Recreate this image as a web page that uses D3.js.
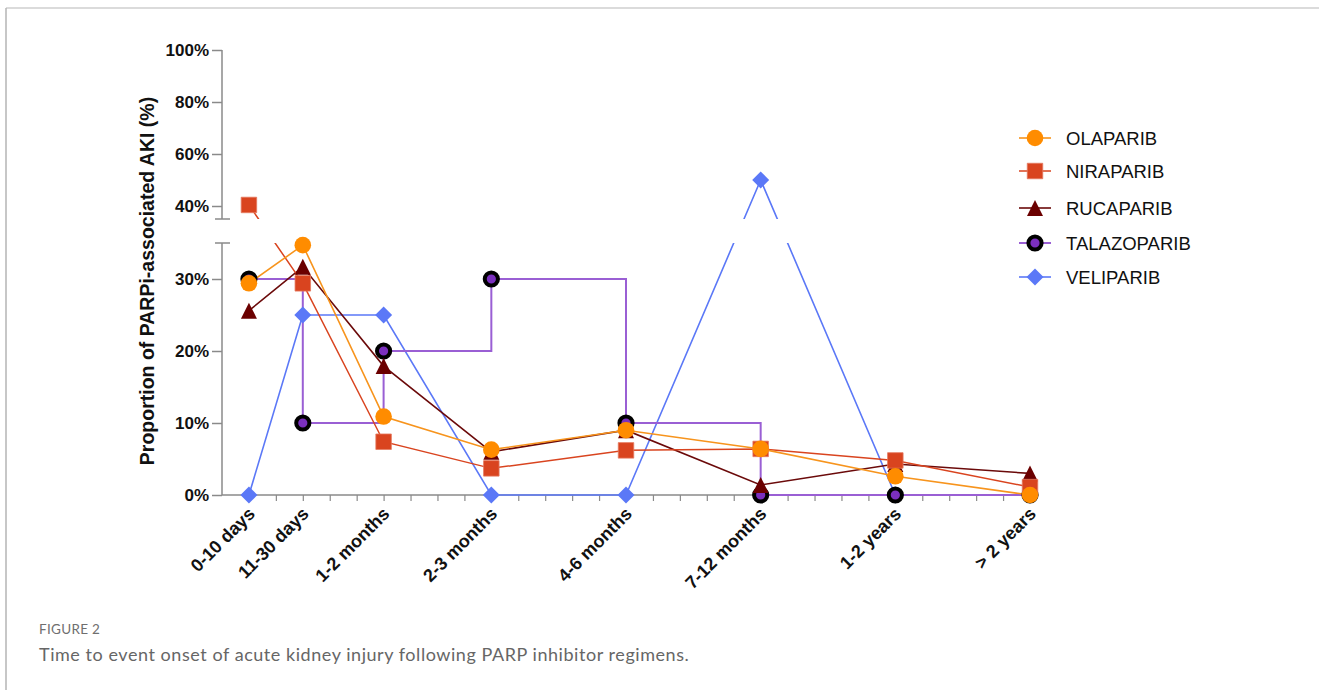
<!DOCTYPE html>
<html>
<head>
<meta charset="utf-8">
<script src="https://cdn.jsdelivr.net/npm/d3@7"></script>
<style>
  html, body { margin: 0; padding: 0; background: #fff; }
  svg { display: block; }
</style>
</head>
<body>
<svg id="chart" width="1319" height="690"></svg>
<script>
// Onset windows and their positions on the numeric x axis
const categories = ["0-10 days", "11-30 days", "1-2 months", "2-3 months", "4-6 months", "7-12 months", "1-2 years", "> 2 years"];
const onsetX = [1, 3, 6, 10, 15, 20, 25, 30];

// Proportion of AKI cases (%) per onset window
const olaparib    = [29.4, 34.7, 10.9, 6.3, 9.0, 6.4, 2.6, 0];
const niraparib   = [40.4, 29.4, 7.4, 3.7, 6.2, 6.4, 4.8, 1.1];
const rucaparib   = [25.6, 31.7, 17.9, 6.0, 9.0, 1.4, 4.3, 3.0];
const talazoparib = [30, 10, 20, 30, 10, 0, 0, 0];
const veliparib   = [0, 25, 25, 0, 0, 50, 0, 0];

const lowerTicks = [0, 10, 20, 30];
const upperTicks = [40, 60, 80, 100];
const breakAt = 35;

const seriesNames = ["OLAPARIB", "NIRAPARIB", "RUCAPARIB", "TALAZOPARIB", "VELIPARIB"];

const svg = d3.select("#chart");

// Figure frame
svg.append("line").attr("x1", 6).attr("x2", 1319).attr("y1", 8).attr("y2", 8)
  .attr("stroke", "#cfcfcf").attr("stroke-width", 1.5);
svg.append("line").attr("x1", 6).attr("x2", 6).attr("y1", 8).attr("y2", 690)
  .attr("stroke", "#b5b5b5").attr("stroke-width", 1.5);

// Scales: numeric x, broken y axis (two linear segments)
const x = d3.scaleLinear().domain([0, 30]).range([222, 1030]);
const yLow = d3.scaleLinear().domain([0, breakAt]).range([495, 243]);
const yHigh = d3.scaleLinear().domain([breakAt, 100]).range([219, 50]);
const y = v => (v <= breakAt ? yLow(v) : yHigh(v));

const axisColor = "#8a8a8a";
const boldFont = "'Liberation Sans', Arial, Helvetica, sans-serif";

// Y axis (two segments)
const gLow = svg.append("g").attr("transform", "translate(222,0)")
  .call(d3.axisLeft(yLow).tickValues(lowerTicks).tickSize(10).tickPadding(3).tickFormat(d => d + "%"));
const gHigh = svg.append("g").attr("transform", "translate(222,0)")
  .call(d3.axisLeft(yHigh).tickValues(upperTicks).tickSize(10).tickPadding(3).tickFormat(d => d + "%"));
[gLow, gHigh].forEach(g => {
  g.select(".domain").remove();
  g.selectAll(".tick line").attr("stroke", axisColor).attr("stroke-width", 1.5);
  g.selectAll(".tick text").attr("font-family", boldFont).attr("font-weight", "bold")
    .attr("font-size", 17).attr("fill", "#111");
});
svg.append("line").attr("x1", 222).attr("x2", 222).attr("y1", yLow(0)).attr("y2", yLow(breakAt))
  .attr("stroke", axisColor).attr("stroke-width", 1.5);
svg.append("line").attr("x1", 222).attr("x2", 222).attr("y1", yHigh(breakAt)).attr("y2", yHigh(100))
  .attr("stroke", axisColor).attr("stroke-width", 1.5);
// Break marks
[yLow(breakAt), yHigh(breakAt)].forEach(yy => {
  svg.append("line").attr("x1", 215).attr("x2", 230).attr("y1", yy).attr("y2", yy)
    .attr("stroke", axisColor).attr("stroke-width", 1.5);
});

// X axis with minor ticks at each unit
const gx = svg.append("g").attr("transform", `translate(0,${yLow(0)})`)
  .call(d3.axisBottom(x).tickValues(d3.range(1, 31)).tickSize(6).tickFormat(""));
gx.select(".domain").attr("stroke", axisColor).attr("stroke-width", 1.5).attr("d", `M222,0H1030`);
gx.selectAll(".tick line").attr("stroke", axisColor).attr("stroke-width", 1.2);

// Category labels, rotated
svg.append("g").selectAll("text").data(categories).join("text")
  .attr("transform", (d, i) => `translate(${x(onsetX[i]) - 2},506) rotate(-45)`)
  .attr("text-anchor", "end").attr("dy", "0.71em")
  .attr("font-family", boldFont).attr("font-weight", "bold").attr("font-size", 18)
  .attr("fill", "#111").text(d => d);

// Y axis title
svg.append("text")
  .attr("transform", `translate(154,281) rotate(-90)`)
  .attr("text-anchor", "middle")
  .attr("font-family", boldFont).attr("font-weight", "bold").attr("font-size", 19.5)
  .attr("fill", "#111").text("Proportion of PARPi-associated AKI (%)");

// Clip lines so they vanish inside the axis break
const defs = svg.append("defs");
const clip = defs.append("clipPath").attr("id", "plotClip");
clip.append("rect").attr("x", 222).attr("y", 30).attr("width", 900).attr("height", yHigh(breakAt) - 30);
clip.append("rect").attr("x", 222).attr("y", yLow(breakAt)).attr("width", 900).attr("height", 300);

// Marker shapes
const markerPath = {
  circle: r => `M${-r},0a${r},${r} 0 1,0 ${2 * r},0a${r},${r} 0 1,0 ${-2 * r},0Z`,
  square: s => `M${-s / 2},${-s / 2}h${s}v${s}h${-s}Z`,
  triangle: s => `M0,${-s / 2}L${s / 2},${s / 2}L${-s / 2},${s / 2}Z`,
  diamond: s => `M0,${-s / 2}L${s / 2},0L0,${s / 2}L${-s / 2},0Z`
};

const series = [
  { name: seriesNames[0], values: olaparib, line: "#f7941d", lw: 1.6, shape: "circle", size: 8.3, fill: "#ff8c00", stroke: "none", sw: 0, curve: d3.curveLinear },
  { name: seriesNames[1], values: niraparib, line: "#d9441f", lw: 1.5, shape: "square", size: 15.5, fill: "#d9441f", stroke: "#e47a5f", sw: 0.8, curve: d3.curveLinear },
  { name: seriesNames[2], values: rucaparib, line: "#6b0a0a", lw: 1.6, shape: "triangle", size: 16, fill: "#6b0000", stroke: "none", sw: 0, curve: d3.curveLinear },
  { name: seriesNames[3], values: talazoparib, line: "#9a5fd4", lw: 2, shape: "circle", size: 6.6, fill: "#7b2fbe", stroke: "#000", sw: 4, curve: d3.curveStepAfter },
  { name: seriesNames[4], values: veliparib, line: "#5b78f7", lw: 1.6, shape: "diamond", size: 17, fill: "#5b78f7", stroke: "none", sw: 0, curve: d3.curveLinear }
];

const drawOrder = series.slice().reverse();

// Series lines
const lineG = svg.append("g").attr("clip-path", "url(#plotClip)");
drawOrder.forEach(s => {
  const pts = s.values.map((v, i) => [x(onsetX[i]), y(v)]);
  lineG.append("path")
    .attr("d", d3.line().curve(s.curve)(pts))
    .attr("fill", "none").attr("stroke", s.line).attr("stroke-width", s.lw);
});

// Series markers
const markG = svg.append("g");
drawOrder.forEach(s => {
  markG.append("g").selectAll("path").data(s.values).join("path")
    .attr("transform", (v, i) => `translate(${x(onsetX[i])},${y(v)})`)
    .attr("d", markerPath[s.shape](s.size))
    .attr("fill", s.fill).attr("stroke", s.stroke).attr("stroke-width", s.sw);
});

// Legend
const legendRows = [138, 171, 208, 243, 277];
const legend = svg.append("g");
series.forEach((s, i) => {
  const ly = legendRows[i];
  legend.append("line").attr("x1", 1019).attr("x2", 1051).attr("y1", ly).attr("y2", ly)
    .attr("stroke", s.line).attr("stroke-width", s.lw);
  legend.append("path").attr("transform", `translate(1035,${ly})`)
    .attr("d", markerPath[s.shape](s.size))
    .attr("fill", s.fill).attr("stroke", s.stroke).attr("stroke-width", s.sw);
  legend.append("text").attr("x", 1066).attr("y", ly).attr("dy", "0.36em")
    .attr("font-family", boldFont).attr("font-size", 18.5).attr("fill", "#111")
    .text(s.name);
});

// Caption
svg.append("text").attr("x", 39).attr("y", 634)
  .attr("font-family", "Lato, 'Open Sans', sans-serif").attr("font-size", 13.5)
  .attr("fill", "#6f6f6f").attr("letter-spacing", 0.3).text("FIGURE 2");
svg.append("text").attr("x", 39).attr("y", 661)
  .attr("font-family", "Lato, 'Open Sans', sans-serif").attr("font-size", 18)
  .attr("letter-spacing", 0.55)
  .attr("fill", "#666").text("Time to event onset of acute kidney injury following PARP inhibitor regimens.");
</script>
</body>
</html>
